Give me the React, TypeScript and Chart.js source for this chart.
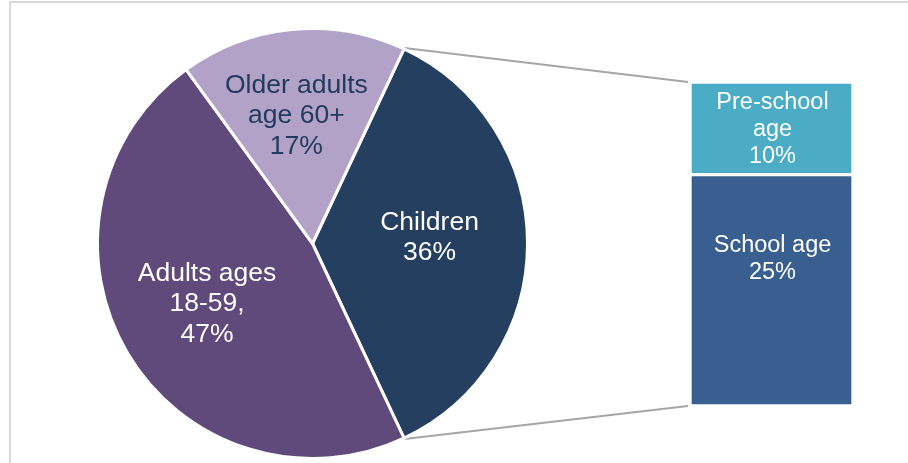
import React, { useEffect, useRef } from "react";
import { Chart, registerables } from "chart.js";

Chart.register(...registerables);

// ---- data ----
const pieCategories = ["Children", "Adults ages 18-59", "Older adults age 60+"];
const pieLabelLines = [["Children"], ["Adults ages", "18-59,"], ["Older adults", "age 60+"]];
const pieValues = [36, 47, 17];
const pieColors = ["#243F60", "#604A7B", "#B3A2C7"];
const pieTextColors = ["#FFFFFF", "#FFFFFF", "#213B5E"];

const barCategories = ["School age", "Pre-school age"];
const barLabelLines = [["School age"], ["Pre-school", "age"]];
const barValues = [25, 10];
const barColors = ["#385F8F", "#4BACC6"];

const FONT = '"Liberation Sans", Arial, sans-serif';
const BAR_LEFT = 690;
const BAR_TOP = 82;
const BAR_W = 163;
const BAR_H = 324;

export default function App() {
  const pieRef = useRef<HTMLCanvasElement | null>(null);
  const barRef = useRef<HTMLCanvasElement | null>(null);

  useEffect(() => {
    document.body.style.margin = "0";
    if (!pieRef.current || !barRef.current) return;

    const barLabelPlugin = {
      id: "barLabels",
      afterDatasetsDraw(chart: any) {
        const ctx = chart.ctx;
        ctx.save();
        ctx.fillStyle = "#FFFFFF";
        ctx.font = `23.5px ${FONT}`;
        ctx.textAlign = "center";
        ctx.textBaseline = "middle";
        chart.data.datasets.forEach((ds: any, i: number) => {
          const el = chart.getDatasetMeta(i).data[0];
          const lines = [...barLabelLines[i], `${ds.data[0]}%`];
          const top = Math.min(el.y, el.base);
          const h = Math.abs(el.base - el.y);
          const lh = 27;
          const centerY = i === 0 ? top + h * 0.365 : top + h / 2 + 1;
          lines.forEach((t, k) => {
            ctx.fillText(t, el.x + 1, centerY + (k - (lines.length - 1) / 2) * lh);
          });
        });
        ctx.restore();
      },
    };

    const barChart = new Chart(barRef.current, {
      type: "bar",
      data: {
        labels: ["Children"],
        datasets: barValues.map((v, i) => ({
          label: barCategories[i],
          data: [v],
          backgroundColor: barColors[i],
          borderColor: "#FFFFFF",
          borderWidth: 2,
          borderSkipped: false,
          barPercentage: 1,
          categoryPercentage: 1,
        })),
      },
      options: {
        animation: false,
        responsive: false,
        maintainAspectRatio: false,
        layout: { padding: 0 },
        plugins: { legend: { display: false }, tooltip: { enabled: false } },
        scales: {
          x: { stacked: true, display: false },
          y: { stacked: true, display: false, min: 0, max: 35 },
        },
      },
      plugins: [barLabelPlugin],
    });

    const piePlugin = {
      id: "pieExtras",
      beforeDatasetsDraw(chart: any) {
        const ctx = chart.ctx;
        const arc = chart.getDatasetMeta(0).data[0];
        const bars0 = barChart.getDatasetMeta(0).data[0] as any;
        const bars1 = barChart.getDatasetMeta(1).data[0] as any;
        const left = BAR_LEFT + bars0.x - bars0.width / 2 - 2;
        const top = BAR_TOP + Math.min(bars1.y, bars1.base);
        const bottom = BAR_TOP + Math.max(bars0.y, bars0.base);
        const r = arc.outerRadius + 1;
        ctx.save();
        ctx.strokeStyle = "#A6A6A6";
        ctx.lineWidth = 2;
        ctx.beginPath();
        ctx.moveTo(arc.x + Math.cos(arc.startAngle) * r, arc.y + Math.sin(arc.startAngle) * r);
        ctx.lineTo(left, top);
        ctx.moveTo(arc.x + Math.cos(arc.endAngle) * r, arc.y + Math.sin(arc.endAngle) * r);
        ctx.lineTo(left, bottom);
        ctx.stroke();
        ctx.restore();
      },
      afterDatasetsDraw(chart: any) {
        const ctx = chart.ctx;
        const meta = chart.getDatasetMeta(0);
        ctx.save();
        ctx.font = `26.5px ${FONT}`;
        ctx.textAlign = "center";
        ctx.textBaseline = "middle";
        const factors = [0.535, 0.57, 0.6];
        const shifts = [
          [2, -6],
          [0, -2],
          [-4, 1],
        ];
        meta.data.forEach((el: any, i: number) => {
          const mid = (el.startAngle + el.endAngle) / 2;
          const rr = el.outerRadius * factors[i];
          const cx = el.x + Math.cos(mid) * rr + shifts[i][0];
          const cy = el.y + Math.sin(mid) * rr + shifts[i][1];
          const lines = [...pieLabelLines[i], `${pieValues[i]}%`];
          const lh = 30.5;
          ctx.fillStyle = pieTextColors[i];
          lines.forEach((t, k) => {
            ctx.fillText(t, cx, cy + (k - (lines.length - 1) / 2) * lh);
          });
        });
        ctx.restore();
      },
    };

    const pieChart = new Chart(pieRef.current, {
      type: "pie",
      data: {
        labels: pieCategories,
        datasets: [
          {
            data: pieValues,
            backgroundColor: pieColors,
            borderColor: "#FFFFFF",
            borderWidth: 3,
          },
        ],
      },
      options: {
        animation: false,
        responsive: false,
        maintainAspectRatio: false,
        rotation: 25.2,
        layout: { padding: { left: 96, right: 379, top: 27, bottom: 3 } },
        plugins: { legend: { display: false }, tooltip: { enabled: false } },
      },
      plugins: [piePlugin],
    });

    return () => {
      pieChart.destroy();
      barChart.destroy();
    };
  }, []);

  return (
    <div style={{ position: "relative", width: 908, height: 463, overflow: "hidden", background: "#FFFFFF" }}>
      <div
        style={{
          position: "absolute",
          left: 9,
          top: 1,
          width: 1000,
          height: 600,
          borderTop: "2px solid #D9D9D9",
          borderLeft: "2px solid #D9D9D9",
        }}
      />
      <canvas ref={pieRef} width={908} height={463} style={{ position: "absolute", left: 0, top: 0 }} />
      <canvas
        ref={barRef}
        width={BAR_W}
        height={BAR_H}
        style={{ position: "absolute", left: BAR_LEFT, top: BAR_TOP, width: BAR_W, height: BAR_H }}
      />
    </div>
  );
}
